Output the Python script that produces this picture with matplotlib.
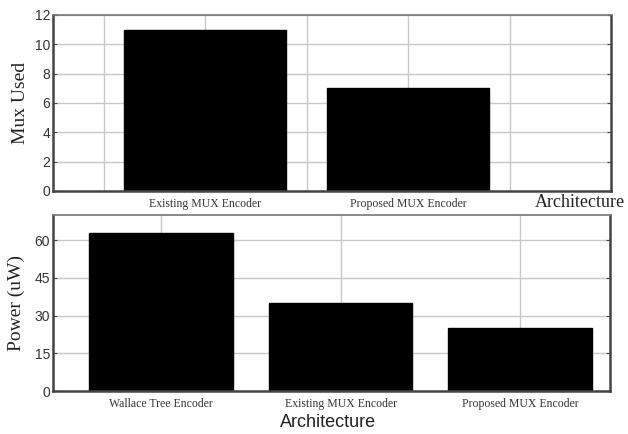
import matplotlib
matplotlib.use("Agg")
import matplotlib.pyplot as plt

mux_archs = ["Existing MUX Encoder", "Proposed MUX Encoder"]
mux_used = [11, 7]

power_archs = ["Wallace Tree Encoder", "Existing MUX Encoder", "Proposed MUX Encoder"]
power_uw = [63, 35, 25]

mux_yticks = [0, 2, 4, 6, 8, 10, 12]
power_yticks = [0, 15, 30, 45, 60]

serif = "Liberation Serif"
sans = "Liberation Sans"


def style_axes(ax):
    for side in ["left", "bottom", "right"]:
        ax.spines[side].set_linewidth(1.8)
        ax.spines[side].set_color("#444444")
    ax.spines["top"].set_linewidth(1.2)
    ax.spines["top"].set_color("#777777")
    ax.set_axisbelow(True)
    ax.tick_params(axis="y", which="both", direction="in", length=3, right=True,
                   color="#444444", pad=2)
    ax.tick_params(axis="x", which="both", length=0, pad=5)
    for lab in ax.get_yticklabels():
        lab.set_fontfamily(sans)
        lab.set_fontsize(10)
        lab.set_color("#333333")
    for lab in ax.get_xticklabels():
        lab.set_fontfamily(serif)
        lab.set_fontsize(8.5)
        lab.set_color("#333333")


fig = plt.figure(figsize=(6.28, 4.34), dpi=100)

# top panel: mux count
ax1 = fig.add_axes([0.0844, 0.560, 0.8886, 0.4055])
x1 = list(range(len(mux_archs)))
ax1.bar(x1, mux_used, width=0.8, color="black", edgecolor="black")
ax1.set_xlim(-0.75, 2.0)
ax1.set_ylim(0, 12)
ax1.set_yticks(mux_yticks)
ax1.set_xticks(x1)
ax1.set_xticklabels(mux_archs)
ax1.set_xticks([-0.5, 0.5, 1.5], minor=True)
ax1.grid(True, which="both", color="#c8c8c8", linewidth=1.0)
style_axes(ax1)
ax1.set_ylabel("Mux Used", fontfamily=serif, fontsize=14, color="#222222",
               va="center")
ax1.yaxis.set_label_coords(-0.059, 0.5)
ax1.set_xlabel("Architecture", fontfamily=serif, fontsize=13, color="#222222",
               va="center")
ax1.xaxis.set_label_coords(0.944, -0.068)

# bottom panel: power
ax2 = fig.add_axes([0.0844, 0.099, 0.8870, 0.4055])
x2 = list(range(len(power_archs)))
ax2.bar(x2, power_uw, width=0.8, color="black", edgecolor="black")
ax2.set_xlim(-0.6, 2.5)
ax2.set_ylim(0, 70)
ax2.set_yticks(power_yticks)
ax2.set_xticks(x2)
ax2.set_xticklabels(power_archs)
ax2.grid(True, color="#c8c8c8", linewidth=1.0)
style_axes(ax2)
ax2.set_ylabel("Power (uW)", fontfamily=serif, fontsize=14, color="#222222",
               va="center")
ax2.yaxis.set_label_coords(-0.066, 0.5)
ax2.set_xlabel("Architecture", fontfamily=sans, fontsize=13, color="#222222",
               va="center")
ax2.xaxis.set_label_coords(0.494, -0.18)

fig.savefig("out.png", dpi=100)
